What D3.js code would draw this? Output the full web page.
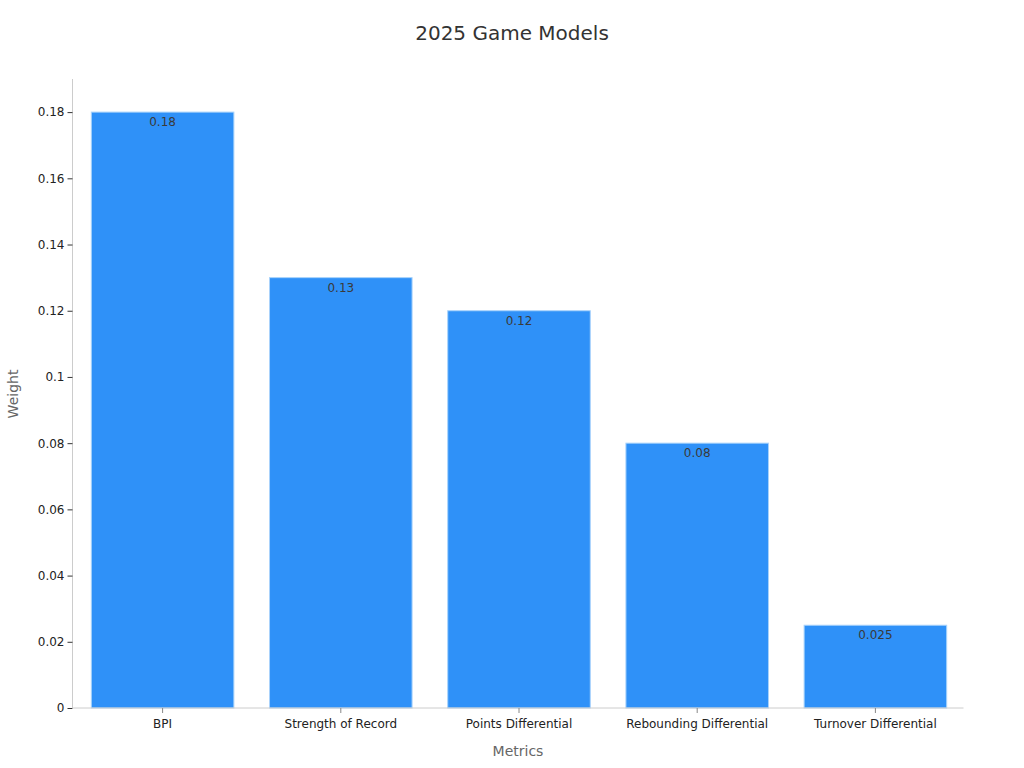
<!DOCTYPE html>
<html><head><meta charset="utf-8">
<script src="https://cdn.jsdelivr.net/npm/d3@7"></script>
<style>body{margin:0;background:#fff}svg{display:block;font-family:"DejaVu Sans",sans-serif}</style>
</head><body><svg id="c" width="1024" height="768"></svg>
<script>
const categories = ["BPI","Strength of Record","Points Differential","Rebounding Differential","Turnover Differential"];
const weights = [0.18,0.13,0.12,0.08,0.025];
const yTicks = [0,0.02,0.04,0.06,0.08,0.1,0.12,0.14,0.16,0.18];
const yTickLabels = ["0","0.02","0.04","0.06","0.08","0.1","0.12","0.14","0.16","0.18"];

const svg = d3.select("#c");
const m = {l:72.5,r:963.5,t:79,b:708};
const x = d3.scaleBand().domain(categories).range([m.l+1,m.r+1]).paddingInner(0.2).paddingOuter(0.1);
const y = d3.scaleLinear().domain([0,0.19]).range([m.b,m.t]);

svg.append("text").attr("x",512).attr("y",40).attr("text-anchor","middle")
  .attr("font-size",20).attr("fill","#333").text("2025 Game Models");

svg.selectAll("rect.bar").data(weights).enter().append("rect").attr("class","bar")
  .attr("x",(d,i)=>x(categories[i])).attr("width",x.bandwidth())
  .attr("y",d=>y(d)).attr("height",d=>y(0)-y(d))
  .attr("fill","#2f91f8").attr("stroke","#a9d3fb").attr("stroke-width",1);

svg.selectAll("text.val").data(weights).enter().append("text").attr("class","val")
  .attr("x",(d,i)=>x(categories[i])+x.bandwidth()/2).attr("y",d=>y(d)+14)
  .attr("text-anchor","middle").attr("font-size",12).attr("fill","#3a3a3a")
  .text(d=>String(d));

const ya = d3.axisLeft(y).tickValues(yTicks).tickFormat((d,i)=>yTickLabels[i]).tickSize(5).tickPadding(3);
const yg = svg.append("g").attr("transform",`translate(${m.l},0)`).call(ya);
yg.select(".domain").attr("stroke","#ccc").attr("d",`M0,${m.t}V${m.b}`);
yg.selectAll(".tick line").attr("stroke","#333");
yg.selectAll(".tick text").attr("font-size",12).attr("fill","#222").attr("font-family","DejaVu Sans");

const xa = d3.axisBottom(x).tickSize(5).tickPadding(6);
const xg = svg.append("g").attr("transform",`translate(0,${m.b})`).call(xa);
xg.select(".domain").attr("stroke","#ccc").attr("d",`M${m.l},0H${m.r}`);
xg.selectAll(".tick line").attr("stroke","#888");
xg.selectAll(".tick text").attr("font-size",12).attr("fill","#222").attr("font-family","DejaVu Sans");

svg.append("text").attr("x",518).attr("y",756).attr("text-anchor","middle")
  .attr("font-size",14).attr("fill","#666").text("Metrics");
svg.append("text").attr("transform","translate(18,394) rotate(-90)").attr("text-anchor","middle")
  .attr("font-size",14).attr("fill","#666").text("Weight");
</script></body></html>
